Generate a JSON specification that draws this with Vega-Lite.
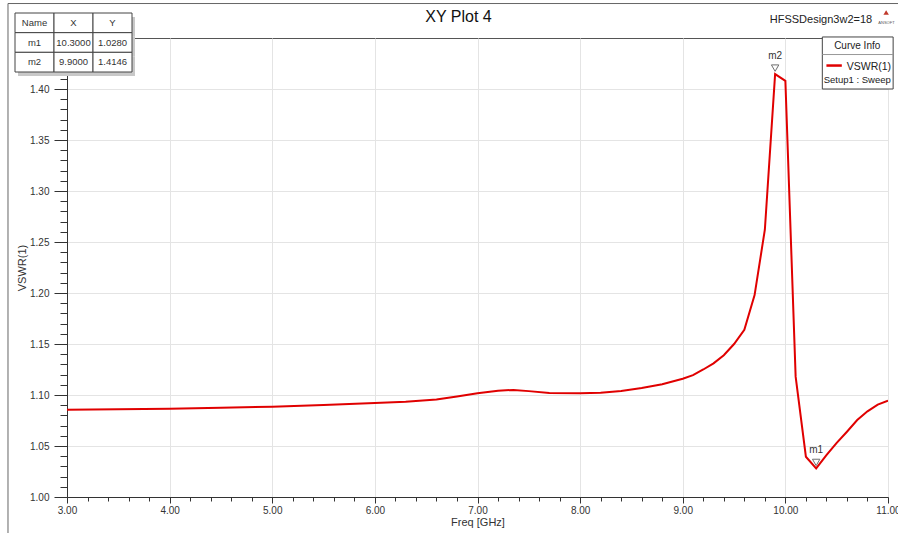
{
  "$schema": "https://vega.github.io/schema/vega-lite/v6.json",
  "width": 821,
  "height": 459,
  "autosize": "none",
  "padding": {"left": 67, "top": 38, "right": 10, "bottom": 41},
  "background": "white",
  "config": {
    "view": {"stroke": "#555", "strokeWidth": 1},
    "font": "'Liberation Sans', Arial, sans-serif"
  },
  "title": {
    "text": "XY Plot 4",
    "fontSize": 16,
    "fontWeight": "normal",
    "color": "#111",
    "anchor": "middle",
    "frame": "group",
    "dx": -19,
    "offset": -22
  },
  "datasets": {
    "vswr": [
      {"f": 3.0, "v": 1.0855},
      {"f": 3.5, "v": 1.0860},
      {"f": 4.0, "v": 1.0866},
      {"f": 4.5, "v": 1.0874},
      {"f": 5.0, "v": 1.0886},
      {"f": 5.5, "v": 1.0903},
      {"f": 6.0, "v": 1.0922},
      {"f": 6.3, "v": 1.0935},
      {"f": 6.6, "v": 1.0955},
      {"f": 6.8, "v": 1.0985},
      {"f": 7.0, "v": 1.1018},
      {"f": 7.2, "v": 1.1042},
      {"f": 7.35, "v": 1.1050},
      {"f": 7.5, "v": 1.1038},
      {"f": 7.7, "v": 1.1020},
      {"f": 8.0, "v": 1.1017},
      {"f": 8.2, "v": 1.1022},
      {"f": 8.4, "v": 1.1040},
      {"f": 8.6, "v": 1.1068},
      {"f": 8.8, "v": 1.1105},
      {"f": 9.0, "v": 1.1160},
      {"f": 9.1, "v": 1.1195},
      {"f": 9.2, "v": 1.1250},
      {"f": 9.3, "v": 1.1310},
      {"f": 9.4, "v": 1.1390},
      {"f": 9.5, "v": 1.1500},
      {"f": 9.6, "v": 1.1640},
      {"f": 9.7, "v": 1.1980},
      {"f": 9.8, "v": 1.2620},
      {"f": 9.9, "v": 1.4146},
      {"f": 10.0, "v": 1.4080},
      {"f": 10.1, "v": 1.1180},
      {"f": 10.2, "v": 1.0395},
      {"f": 10.3, "v": 1.0280},
      {"f": 10.4, "v": 1.0410},
      {"f": 10.5, "v": 1.0530},
      {"f": 10.6, "v": 1.0640},
      {"f": 10.7, "v": 1.0755},
      {"f": 10.8, "v": 1.0840},
      {"f": 10.9, "v": 1.0905},
      {"f": 11.0, "v": 1.0945}
    ],
    "markers": [
      {"name": "m1", "X": 10.3, "Y": 1.028},
      {"name": "m2", "X": 9.9, "Y": 1.4146}
    ],
    "table": [
      {"row": "Name", "col": "Name", "text": "Name"},
      {"row": "Name", "col": "X", "text": "X"},
      {"row": "Name", "col": "Y", "text": "Y"},
      {"row": "m1", "col": "Name", "text": "m1"},
      {"row": "m1", "col": "X", "text": "10.3000"},
      {"row": "m1", "col": "Y", "text": "1.0280"},
      {"row": "m2", "col": "Name", "text": "m2"},
      {"row": "m2", "col": "X", "text": "9.9000"},
      {"row": "m2", "col": "Y", "text": "1.4146"}
    ],
    "one": [{}]
  },
  "layer": [
    {
      "layer": [
        {
          "data": {"name": "vswr"},
          "mark": {"type": "line", "color": "#e00000", "strokeWidth": 2, "clip": true},
          "encoding": {
            "x": {
              "field": "f", "type": "quantitative",
              "scale": {"domain": [3, 11], "nice": false, "zero": false},
              "axis": {
                "orient": "bottom", "values": [3, 4, 5, 6, 7, 8, 9, 10, 11], "format": ".2f",
                "title": "Freq [GHz]", "grid": true, "gridColor": "#e4e4e4",
                "tickSize": 6, "tickColor": "#333", "domainColor": "#333",
                "labelFontSize": 10, "labelColor": "#333", "labelPadding": 2, "labelFlush": false,
                "titleFontSize": 11, "titleFontWeight": "normal", "titleColor": "#333", "titlePadding": 1
              }
            },
            "y": {
              "field": "v", "type": "quantitative",
              "scale": {"domain": [1, 1.45], "nice": false, "zero": false},
              "axis": {
                "orient": "left", "values": [1, 1.05, 1.1, 1.15, 1.2, 1.25, 1.3, 1.35, 1.4], "format": ".2f",
                "title": "VSWR(1)", "grid": true, "gridColor": "#e4e4e4",
                "tickSize": 13, "tickColor": "#333", "domainColor": "#333",
                "labelFontSize": 10, "labelColor": "#333", "labelPadding": 5, "labelFlush": false,
                "titleFontSize": 11, "titleFontWeight": "normal", "titleColor": "#333", "titlePadding": 2
              }
            }
          }
        },
        {
          "data": {"name": "markers"},
          "mark": {"type": "point", "shape": "triangle-down", "filled": false, "stroke": "#333", "strokeWidth": 1, "size": 55, "yOffset": -6},
          "encoding": {
            "x": {"field": "X", "type": "quantitative"},
            "y": {"field": "Y", "type": "quantitative"}
          }
        },
        {
          "data": {"name": "markers"},
          "mark": {"type": "text", "fontSize": 10, "color": "#333", "dy": -18},
          "encoding": {
            "x": {"field": "X", "type": "quantitative"},
            "y": {"field": "Y", "type": "quantitative"},
            "text": {"field": "name"}
          }
        },
        {
          "data": {"name": "one"},
          "layer": [
            {
              "mark": {"type": "rule", "stroke": "#666", "strokeWidth": 1},
              "encoding": {
                "x": {"datum": 2.425, "type": "quantitative"},
                "y": {"datum": 1.4838, "type": "quantitative"},
                "y2": {"datum": 0.9647}
              }
            },
            {
              "mark": {"type": "rule", "stroke": "#666", "strokeWidth": 1},
              "encoding": {
                "x": {"datum": 2.425, "type": "quantitative"},
                "x2": {"datum": 11.1},
                "y": {"datum": 1.4838, "type": "quantitative"}
              }
            },
            {
              "mark": {"type": "text", "fontSize": 11, "color": "#222", "align": "right", "baseline": "middle", "text": "HFSSDesign3w2=18"},
              "encoding": {
                "x": {"datum": 10.846, "type": "quantitative"},
                "y": {"datum": 1.468, "type": "quantitative"}
              }
            },
            {
              "mark": {"type": "point", "shape": "triangle-up", "filled": true, "fill": "#c0392b", "size": 30, "opacity": 1},
              "encoding": {
                "x": {"datum": 10.982, "type": "quantitative"},
                "y": {"datum": 1.475, "type": "quantitative"}
              }
            },
            {
              "mark": {"type": "text", "fontSize": 4, "color": "#555", "baseline": "middle", "text": "ANSOFT"},
              "encoding": {
                "x": {"datum": 10.985, "type": "quantitative"},
                "y": {"datum": 1.4645, "type": "quantitative"}
              }
            },
            {
              "mark": {"type": "rect", "fill": "#c8c8c8", "xOffset": 3, "yOffset": 3},
              "encoding": {
                "x": {"datum": 10.36, "type": "quantitative"},
                "x2": {"datum": 11.05},
                "y": {"datum": 1.451, "type": "quantitative"},
                "y2": {"datum": 1.4}
              }
            },
            {
              "mark": {"type": "rect", "fill": "white", "stroke": "#444", "strokeWidth": 1},
              "encoding": {
                "x": {"datum": 10.36, "type": "quantitative"},
                "x2": {"datum": 11.05},
                "y": {"datum": 1.451, "type": "quantitative"},
                "y2": {"datum": 1.4}
              }
            },
            {
              "mark": {"type": "rule", "stroke": "#999", "strokeWidth": 1},
              "encoding": {
                "x": {"datum": 10.36, "type": "quantitative"},
                "x2": {"datum": 11.05},
                "y": {"datum": 1.4338, "type": "quantitative"}
              }
            },
            {
              "mark": {"type": "rule", "stroke": "#e00000", "strokeWidth": 2.5},
              "encoding": {
                "x": {"datum": 10.40, "type": "quantitative"},
                "x2": {"datum": 10.55},
                "y": {"datum": 1.423, "type": "quantitative"}
              }
            },
            {
              "mark": {"type": "text", "fontSize": 10, "color": "#222", "align": "center", "baseline": "middle", "text": "Curve Info"},
              "encoding": {
                "x": {"datum": 10.70, "type": "quantitative"},
                "y": {"datum": 1.4426, "type": "quantitative"}
              }
            },
            {
              "mark": {"type": "text", "fontSize": 10.5, "color": "#222", "align": "right", "baseline": "middle", "text": "VSWR(1)"},
              "encoding": {
                "x": {"datum": 11.03, "type": "quantitative"},
                "y": {"datum": 1.422, "type": "quantitative"}
              }
            },
            {
              "mark": {"type": "text", "fontSize": 9.5, "color": "#222", "align": "center", "baseline": "middle", "text": "Setup1 : Sweep"},
              "encoding": {
                "x": {"datum": 10.70, "type": "quantitative"},
                "y": {"datum": 1.4092, "type": "quantitative"}
              }
            }
          ]
        }
      ]
    },
    {
      "data": {"name": "markers"},
      "mark": {"type": "point", "opacity": 0},
      "encoding": {
        "x": {
          "field": "X", "type": "quantitative",
          "scale": {"domain": [3, 11], "nice": false, "zero": false},
          "axis": {
            "orient": "bottom", "labels": false, "grid": false, "domain": false, "title": null,
            "tickSize": 4, "tickColor": "#333",
            "values": [3.2, 3.4, 3.6, 3.8, 4.2, 4.4, 4.6, 4.8, 5.2, 5.4, 5.6, 5.8, 6.2, 6.4, 6.6, 6.8, 7.2, 7.4, 7.6, 7.8, 8.2, 8.4, 8.6, 8.8, 9.2, 9.4, 9.6, 9.8, 10.2, 10.4, 10.6, 10.8]
          }
        },
        "y": {
          "field": "Y", "type": "quantitative",
          "scale": {"domain": [1, 1.45], "nice": false, "zero": false},
          "axis": {
            "orient": "left", "labels": false, "grid": false, "domain": false, "title": null,
            "tickSize": 7, "tickColor": "#333",
            "values": [1.01, 1.02, 1.03, 1.04, 1.06, 1.07, 1.08, 1.09, 1.11, 1.12, 1.13, 1.14, 1.16, 1.17, 1.18, 1.19, 1.21, 1.22, 1.23, 1.24, 1.26, 1.27, 1.28, 1.29, 1.31, 1.32, 1.33, 1.34, 1.36, 1.37, 1.38, 1.39, 1.41, 1.42, 1.43, 1.44]
          }
        }
      }
    },
    {
      "data": {"name": "table"},
      "encoding": {
        "x": {
          "field": "col", "type": "nominal",
          "scale": {"type": "band", "domain": ["Name", "X", "Y"], "range": [-52, 65], "paddingInner": 0, "paddingOuter": 0},
          "axis": null
        },
        "y": {
          "field": "row", "type": "nominal",
          "scale": {"type": "band", "domain": ["Name", "m1", "m2"], "range": [-25, 34], "paddingInner": 0, "paddingOuter": 0},
          "axis": null
        }
      },
      "layer": [
        {"mark": {"type": "rect", "fill": "#c8c8c8", "xOffset": 3, "yOffset": 4}},
        {"mark": {"type": "rect", "fill": "white", "stroke": "#444", "strokeWidth": 1}},
        {"mark": {"type": "text", "fontSize": 9.5, "color": "#333"}, "encoding": {"text": {"field": "text"}}}
      ]
    }
  ],
  "resolve": {"scale": {"x": "independent", "y": "independent"}}
}
